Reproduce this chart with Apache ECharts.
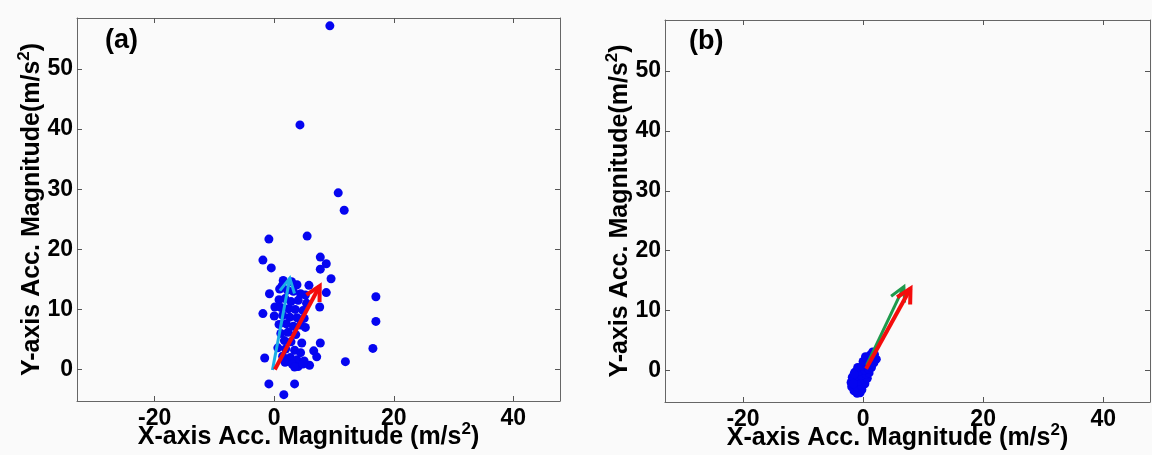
<!DOCTYPE html>
<html>
<head>
<meta charset="utf-8">
<script src="https://cdn.jsdelivr.net/npm/echarts@6/dist/echarts.min.js"></script>
<style>
html,body{margin:0;padding:0;background:#fafafa;}
#chart{width:1152px;height:455px;}
</style>
</head>
<body>
<div id="chart"></div>
<script>
// ---- data ----
const xTicks = [-20, 0, 20, 40];
const yTicks = [0, 10, 20, 30, 40, 50];
const xLimits = [-33, 47.8];
const yLimits = [-5.25, 58.5];
const panelLabels = ['(a)', '(b)'];
const xTitle = 'X-axis Acc. Magnitude (m/s{sup|2})';
const yTitle = 'Y-axis Acc. Magnitude(m/s{sup|2})';

// panel (a): raw acceleration samples
const pointsA = [
  [9.3,57.2],[4.3,40.7],[10.7,29.4],[11.7,26.5],[-0.9,21.7],[5.5,22.2],[-1.9,18.2],[-0.5,16.9],
  [7.7,18.7],[8.7,17.6],[7.7,16.7],[9.5,15.1],[8.7,12.8],[7.6,10.4],[17.0,12.1],[17.0,8.0],
  [16.5,3.5],[11.9,1.3],[-0.8,12.6],[-1.9,9.3],[-1.6,1.9],[-0.9,-2.4],[3.4,-2.4],[1.6,-4.2],
  [7.7,4.4],[6.6,3.1],[7.1,2.1],[5.9,0.7],[1.5,14.8],[3.8,14.1],[5.8,14.0],[0.9,13.4],[2.9,14.6],
  [1.3,13.9],[2.2,13.2],[3.2,13.0],[4.4,12.6],[5.2,12.4],[0.8,11.6],[1.8,11.8],[2.8,11.3],
  [4.0,11.5],[5.4,11.0],[0.1,10.4],[1.1,10.3],[2.4,10.1],[3.5,10.0],[4.8,9.8],[0.0,8.9],
  [1.4,9.0],[2.6,8.7],[3.8,8.6],[5.0,8.5],[0.8,7.5],[2.0,7.6],[3.2,7.2],[4.4,7.4],[5.2,7.0],
  [1.1,6.0],[2.3,6.2],[3.6,5.8],[1.7,4.8],[2.8,4.6],[4.6,4.4],[0.6,3.6],[1.9,3.4],[3.4,3.2],
  [4.4,2.8],[1.4,2.2],[2.7,2.0],[3.8,1.6],[5.0,1.4],[1.8,1.2],[3.0,0.9],[4.0,0.5],[4.8,0.9],[3.4,0.4]
];
// panel (b): filtered acceleration samples
const pointsB = [
  [-1.0,-3.8],[-0.5,-3.7],[-1.5,-3.4],[-0.2,-3.2],[-1.9,-2.7],[-1.0,-2.7],[-0.3,-2.5],[0.3,-2.2],
  [-2.0,-2.0],[-1.3,-1.8],[-0.6,-1.7],[0.2,-1.5],[0.7,-1.3],[-1.8,-1.1],[-1.0,-0.9],[-0.3,-0.8],
  [0.5,-0.6],[1.0,-0.4],[-1.4,-0.3],[-0.7,-0.1],[0.2,0.1],[0.9,0.3],[1.4,0.5],[-0.9,0.5],
  [-0.2,0.7],[0.5,1.0],[1.2,1.1],[1.8,1.3],[0.0,1.5],[0.8,1.8],[1.5,2.0],[2.2,1.9],[0.4,2.3],
  [1.2,2.6],[1.9,2.7],[1.6,3.1],[-1.6,-2.2],[-1.5,-0.6]
];
// arrows: [x0, y0, x1, y1]
const arrowCyanA = [[-0.3,-0.1,2.6,15.2]];
const arrowRedA  = [[0.1,0.0,7.6,13.9]];
const arrowGreenB = [[0.6,0.9,6.8,14.0]];
const arrowRedB   = [[0.5,0.3,7.9,13.7]];

// ---- chart ----
const FONT = '"Liberation Sans", Arial, sans-serif';
const grids = [
  {left: 77, top: 18, width: 483, height: 383, outerBoundsMode: 'none', containLabel: false},
  {left: 665, top: 20, width: 485, height: 382, outerBoundsMode: 'none', containLabel: false}
];

function makeArrow(width){
  return function(params, api){
    const p0 = api.coord([api.value(0), api.value(1)]);
    const p1 = api.coord([api.value(2), api.value(3)]);
    const ang = Math.atan2(p1[1]-p0[1], p1[0]-p0[0]);
    const L = 16, a = Math.PI/6.5;
    const w1 = [p1[0]-L*Math.cos(ang-a), p1[1]-L*Math.sin(ang-a)];
    const w2 = [p1[0]-L*Math.cos(ang+a), p1[1]-L*Math.sin(ang+a)];
    const style = {stroke: api.visual('color'), lineWidth: width, fill: null, lineJoin: 'miter', lineCap: 'butt'};
    return {type: 'group', children: [
      {type: 'polyline', shape: {points: [p0, p1]}, style: style},
      {type: 'polyline', shape: {points: [w1, p1, w2]}, style: style}
    ]};
  };
}

const supStyle = {fontFamily: FONT, fontWeight: 'bold', fontSize: 17, color: '#000', verticalAlign: 'top', lineHeight: 16};
const xNameStyle = {fontFamily: FONT, fontWeight: 'bold', fontSize: 25, color: '#000', lineHeight: 32,
  padding: [0, 20, 0, 0], rich: {sup: supStyle}};
const yNameStyle = {fontFamily: FONT, fontWeight: 'bold', fontSize: 25, color: '#000', lineHeight: 32,
  rich: {sup: supStyle}};
const labelStyle = {fontFamily: FONT, fontWeight: 'bold', fontSize: 23, color: '#000'};

const xAxes = [], yAxes = [];
[0,1].forEach(function(g){
  xAxes.push({
    type: 'value', gridIndex: g, min: xLimits[0], max: xLimits[1], position: 'bottom',
    name: xTitle, nameLocation: 'middle', nameGap: 20, nameMoveOverlap: false, nameTextStyle: xNameStyle,
    axisLine: {show: true, onZero: false, lineStyle: {color: '#666', width: 1}},
    axisTick: {show: true, inside: true, length: 5, customValues: xTicks, lineStyle: {color: '#555'}},
    axisLabel: Object.assign({show: true, customValues: xTicks, margin: 6}, labelStyle),
    splitLine: {show: false}
  });
  xAxes.push({
    type: 'value', gridIndex: g, min: xLimits[0], max: xLimits[1], position: 'top',
    axisLine: {show: true, onZero: false, lineStyle: {color: '#666', width: 1}},
    axisTick: {show: true, inside: true, length: 5, customValues: xTicks, lineStyle: {color: '#555'}},
    axisLabel: {show: false}, splitLine: {show: false}
  });
  yAxes.push({
    type: 'value', gridIndex: g, min: yLimits[0], max: yLimits[1], position: 'left',
    name: yTitle, nameLocation: 'middle', nameGap: 29, nameMoveOverlap: false, nameRotate: 90, nameTextStyle: yNameStyle,
    axisLine: {show: true, onZero: false, lineStyle: {color: '#666', width: 1}},
    axisTick: {show: true, inside: true, length: 5, customValues: yTicks, lineStyle: {color: '#555'}},
    axisLabel: Object.assign({show: true, customValues: yTicks, margin: 4}, labelStyle),
    splitLine: {show: false}
  });
  yAxes.push({
    type: 'value', gridIndex: g, min: yLimits[0], max: yLimits[1], position: 'right',
    axisLine: {show: true, onZero: false, lineStyle: {color: '#666', width: 1}},
    axisTick: {show: true, inside: true, length: 5, customValues: yTicks, lineStyle: {color: '#555'}},
    axisLabel: {show: false}, splitLine: {show: false}
  });
});

const chart = echarts.init(document.getElementById('chart'), null, {renderer: 'canvas'});
chart.setOption({
  backgroundColor: '#fafafa',
  animation: false,
  title: [
    {text: panelLabels[0], left: 105, top: 27, padding: 0, textStyle: {fontFamily: FONT, fontWeight: 'bold', fontSize: 27, color: '#000'}},
    {text: panelLabels[1], left: 689, top: 28, padding: 0, textStyle: {fontFamily: FONT, fontWeight: 'bold', fontSize: 27, color: '#000'}}
  ],
  grid: grids,
  xAxis: xAxes,
  yAxis: yAxes,
  series: [
    {type: 'scatter', xAxisIndex: 0, yAxisIndex: 0, data: pointsA, symbolSize: 9,
      itemStyle: {color: '#0505f0', opacity: 1}, z: 2},
    {type: 'scatter', xAxisIndex: 2, yAxisIndex: 2, data: pointsB, symbolSize: 9,
      itemStyle: {color: '#0505f0', opacity: 1}, z: 2},
    {type: 'custom', xAxisIndex: 0, yAxisIndex: 0, data: arrowCyanA, renderItem: makeArrow(3),
      itemStyle: {color: '#1aaee6'}, encode: {x: [0, 2], y: [1, 3]}, z: 5},
    {type: 'custom', xAxisIndex: 0, yAxisIndex: 0, data: arrowRedA, renderItem: makeArrow(4),
      itemStyle: {color: '#f40c0c'}, encode: {x: [0, 2], y: [1, 3]}, z: 6},
    {type: 'custom', xAxisIndex: 2, yAxisIndex: 2, data: arrowGreenB, renderItem: makeArrow(3),
      itemStyle: {color: '#1f9a4c'}, encode: {x: [0, 2], y: [1, 3]}, z: 5},
    {type: 'custom', xAxisIndex: 2, yAxisIndex: 2, data: arrowRedB, renderItem: makeArrow(4),
      itemStyle: {color: '#f40c0c'}, encode: {x: [0, 2], y: [1, 3]}, z: 6}
  ]
});
</script>
</body>
</html>
